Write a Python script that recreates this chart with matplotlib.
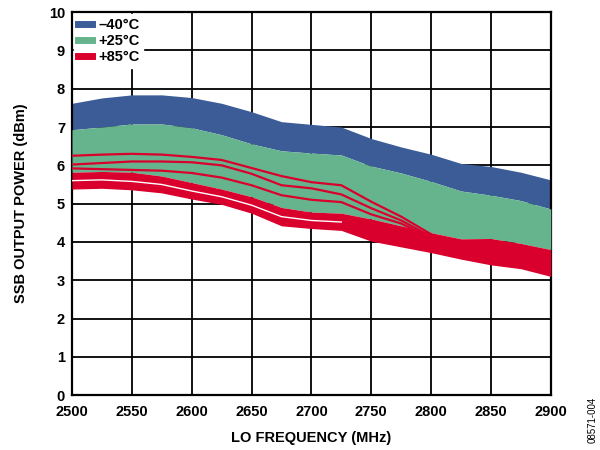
import numpy as np
import matplotlib
matplotlib.use("Agg")
import matplotlib.pyplot as plt
from matplotlib.lines import Line2D

plt.rcParams['font.family'] = ['Liberation Sans', 'DejaVu Sans']

# LO frequency points (MHz)
freq = [2500, 2525, 2550, 2575, 2600, 2625, 2650, 2675, 2700,
        2725, 2750, 2775, 2800, 2825, 2850, 2875, 2900]

# envelope of the device traces at each temperature (dBm)
blue_top = [7.62, 7.76, 7.84, 7.84, 7.77, 7.62, 7.40, 7.14, 7.07,
            7.00, 6.70, 6.48, 6.29, 6.05, 5.97, 5.82, 5.62]
green_top = [6.93, 7.00, 7.08, 7.08, 6.98, 6.80, 6.56, 6.38, 6.32,
             6.27, 5.98, 5.80, 5.58, 5.33, 5.22, 5.08, 4.86]
red_top = [5.82, 5.84, 5.82, 5.72, 5.55, 5.38, 5.18, 4.90, 4.78,
           4.75, 4.60, 4.42, 4.24, 4.08, 4.09, 3.96, 3.80]
red_bottom = [5.38, 5.40, 5.36, 5.28, 5.12, 4.98, 4.75, 4.42, 4.35,
              4.30, 4.02, 3.87, 3.72, 3.55, 3.40, 3.30, 3.10]
# gap between the two +85C groups on the low-frequency side
red_gap = [5.60, 5.62, 5.58, 5.50, 5.33, 5.18, 4.96, 4.66, 4.56, 4.52]

# +85C parts that sit higher, running through the +25C spread
trace_freq = freq[:13]
red_hi1 = [6.25, 6.28, 6.30, 6.28, 6.22, 6.14, 5.93, 5.72, 5.56, 5.48, 5.05, 4.66, 4.20]
red_hi2 = [6.02, 6.06, 6.10, 6.10, 6.08, 6.00, 5.78, 5.48, 5.40, 5.24, 4.88, 4.56, 4.14]
red_hi3 = [5.92, 5.90, 5.88, 5.86, 5.80, 5.68, 5.48, 5.22, 5.10, 5.04, 4.72, 4.48, 4.10]

c_blue = '#3B5C97'
c_green = '#66B48D'
c_red = '#DA002D'

fig = plt.figure(figsize=(6, 4.5), dpi=100)
ax = fig.add_axes([0.12, 0.122, 0.798, 0.851])

ax.fill_between(freq, green_top, blue_top, color=c_blue, lw=0, zorder=2)
ax.fill_between(freq, red_top, green_top, color=c_green, lw=0, zorder=3)
ax.fill_between(freq, red_bottom, red_top, color=c_red, lw=0, zorder=4)
ax.plot(freq[:len(red_gap)], red_gap, color='white', lw=1.0, zorder=5)
for tr in (red_hi1, red_hi2, red_hi3):
    ax.plot(trace_freq, tr, color=c_red, lw=1.6, zorder=5)

ax.set_xlim(2500, 2900)
ax.set_ylim(0, 10)
ax.set_xticks(np.arange(2500, 2901, 50))
ax.set_yticks(np.arange(0, 11, 1))
ax.grid(True, color='black', lw=1.3)
ax.set_axisbelow(True)
ax.tick_params(length=0, labelsize=10.5)
ax.tick_params(axis='x', pad=7)
ax.tick_params(axis='y', pad=5)
for lab in ax.get_xticklabels() + ax.get_yticklabels():
    lab.set_fontweight('bold')
for sp in ax.spines.values():
    sp.set_linewidth(1.6)

ax.set_xlabel('LO FREQUENCY (MHz)', fontsize=10.5, fontweight='bold', labelpad=9)
ax.set_ylabel('SSB OUTPUT POWER (dBm)', fontsize=10.5, fontweight='bold', labelpad=15)

handles = [Line2D([], [], color=c, lw=5) for c in (c_blue, c_green, c_red)]
leg = ax.legend(handles, ['\u201340°C', '+25°C', '+85°C'], loc='upper left',
                prop={'weight': 'bold', 'size': 10.5}, handlelength=1.0,
                handletextpad=0.4, labelspacing=0.15, borderpad=0.25,
                borderaxespad=0.15, fancybox=False, framealpha=1,
                facecolor='white', edgecolor='white')
leg.set_zorder(10)

fig.text(0.988, 0.068, '08571-004', rotation=90, fontsize=7,
         ha='center', va='center')

fig.savefig('out.png', dpi=100)
